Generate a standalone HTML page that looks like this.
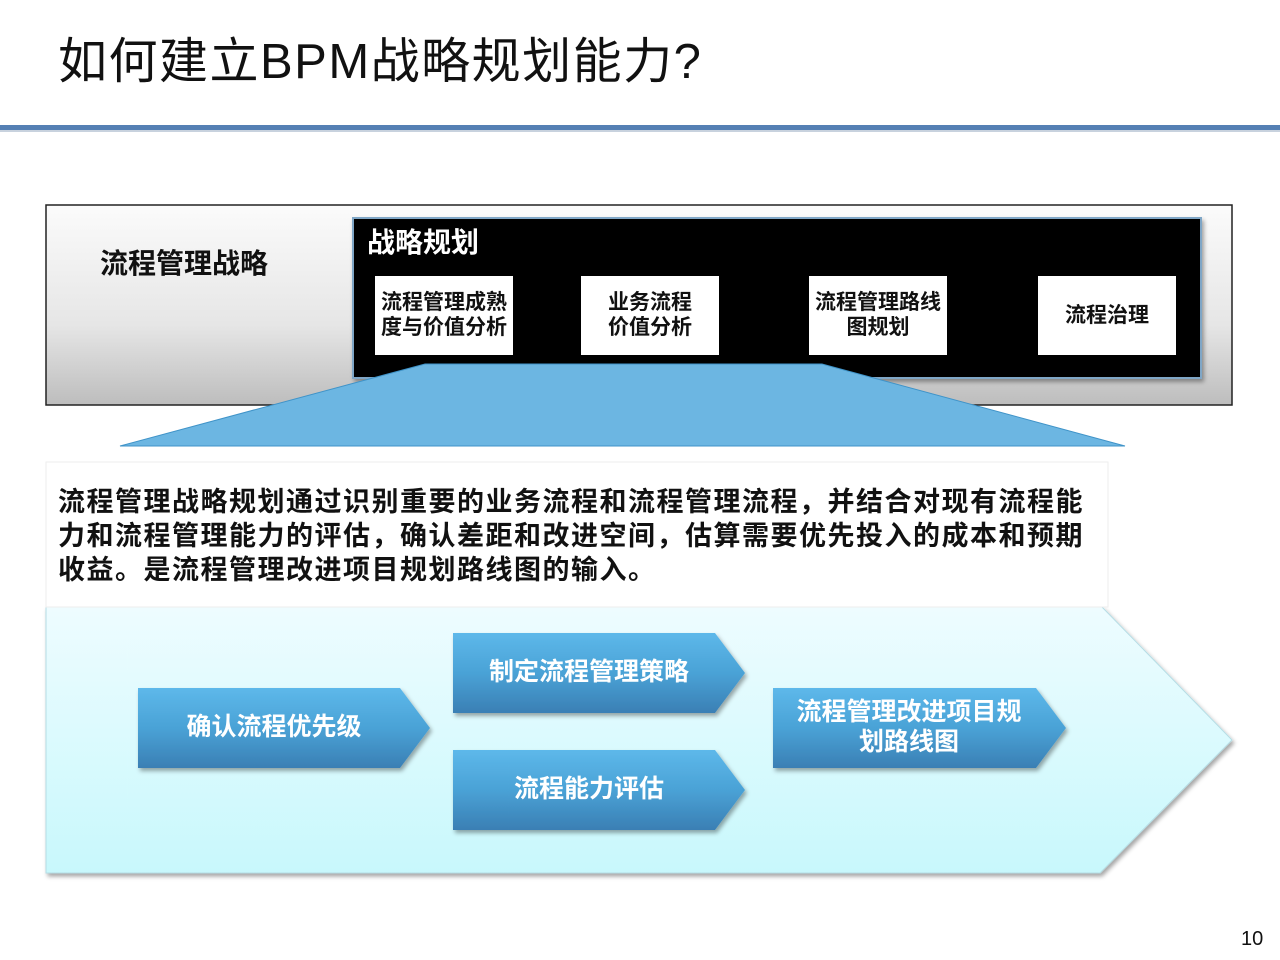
<!DOCTYPE html>
<html><head><meta charset="utf-8">
<style>
html,body{margin:0;padding:0;background:#fff;}
body{width:1280px;height:960px;position:relative;overflow:hidden;font-family:"Liberation Sans","Noto Sans CJK SC",sans-serif;}
.t{position:absolute;white-space:nowrap;}
.b{font-weight:bold;}
</style></head><body>
<svg width="1280" height="960" style="position:absolute;left:0;top:0">
<defs>
<linearGradient id="gray" x1="0" y1="0" x2="0" y2="1"><stop offset="0" stop-color="#fbfbfb"/><stop offset="0.6" stop-color="#e6e6e6"/><stop offset="1" stop-color="#bdbdbd"/></linearGradient>
<linearGradient id="cyan" x1="0" y1="0" x2="0" y2="1"><stop offset="0" stop-color="#eefcff"/><stop offset="1" stop-color="#c8f8fc"/></linearGradient>
<linearGradient id="blu" x1="0" y1="0" x2="0" y2="1"><stop offset="0" stop-color="#5db8ea"/><stop offset="0.5" stop-color="#4aa2d6"/><stop offset="1" stop-color="#3a7fb4"/></linearGradient>
<filter id="sh" x="-5%" y="-5%" width="115%" height="120%"><feDropShadow dx="2" dy="3" stdDeviation="2" flood-color="#000" flood-opacity="0.35"/></filter>
</defs>
<rect x="0" y="125" width="1280" height="5" fill="#5580b4"/>
<rect x="0" y="130" width="1280" height="2" fill="#c8d2de"/>
<rect x="46" y="205" width="1186" height="200" fill="url(#gray)" stroke="#222" stroke-width="1.5"/>
<rect x="353" y="218" width="848" height="160" fill="#000" stroke="#7fa6c6" stroke-width="2" filter="url(#sh)"/>
<rect x="375" y="276" width="138" height="79" fill="#fff"/>
<rect x="581" y="276" width="138" height="79" fill="#fff"/>
<rect x="809" y="276" width="138" height="79" fill="#fff"/>
<rect x="1038" y="276" width="138" height="79" fill="#fff"/>
<polygon points="425,364 822,364 1125,446 120,446" fill="#6cb6e2" stroke="#3f93c8" stroke-width="1"/>
<polygon points="46,607 1102,607 1232,740 1100,873 46,873" fill="url(#cyan)" stroke="#b5dde5" stroke-width="1" filter="url(#sh)"/>
<rect x="46" y="462" width="1062" height="145" fill="#fff" stroke="#eee" stroke-width="1"/>
<polygon points="138,688 400,688 430,728 400,768 138,768" fill="url(#blu)" filter="url(#sh)"/>
<polygon points="453,633 715,633 745,673 715,713 453,713" fill="url(#blu)" filter="url(#sh)"/>
<polygon points="453,750 715,750 745,790 715,830 453,830" fill="url(#blu)" filter="url(#sh)"/>
<polygon points="773,688 1036,688 1066,728 1036,768 773,768" fill="url(#blu)" filter="url(#sh)"/>
</svg>
<div class="t" style="left:58px;top:33px;font-size:49px;letter-spacing:1.5px;color:#111;line-height:58px;">如何建立BPM战略规划能力?</div>
<div class="t b" style="left:100px;top:248px;font-size:28px;color:#111;line-height:32px;">流程管理战略</div>
<div class="t b" style="left:367px;top:227px;font-size:28px;color:#fff;line-height:32px;">战略规划</div>
<div class="t b" style="left:375px;top:290px;width:138px;text-align:center;font-size:21px;line-height:25px;color:#111;">流程管理成熟<br>度与价值分析</div>
<div class="t b" style="left:581px;top:290px;width:138px;text-align:center;font-size:21px;line-height:25px;color:#111;">业务流程<br>价值分析</div>
<div class="t b" style="left:809px;top:290px;width:138px;text-align:center;font-size:21px;line-height:25px;color:#111;">流程管理路线<br>图规划</div>
<div class="t b" style="left:1038px;top:303px;width:138px;text-align:center;font-size:21px;line-height:25px;color:#111;">流程治理</div>
<div class="t b" style="left:58px;top:485px;font-size:27px;line-height:34px;letter-spacing:1.5px;color:#111;">流程管理战略规划通过识别重要的业务流程和流程管理流程，并结合对现有流程能<br>力和流程管理能力的评估，确认差距和改进空间，估算需要优先投入的成本和预期<br>收益。是流程管理改进项目规划路线图的输入。</div>
<div class="t b" style="left:138px;top:712px;width:272px;text-align:center;font-size:25px;line-height:30px;color:#fff;">确认流程优先级</div>
<div class="t b" style="left:453px;top:657px;width:272px;text-align:center;font-size:25px;line-height:30px;color:#fff;">制定流程管理策略</div>
<div class="t b" style="left:453px;top:774px;width:272px;text-align:center;font-size:25px;line-height:30px;color:#fff;">流程能力评估</div>
<div class="t b" style="left:773px;top:697px;width:272px;text-align:center;font-size:25px;line-height:30px;color:#fff;">流程管理改进项目规<br>划路线图</div>
<div class="t" style="left:1241px;top:928px;font-size:20px;color:#111;">10</div>
</body></html>
